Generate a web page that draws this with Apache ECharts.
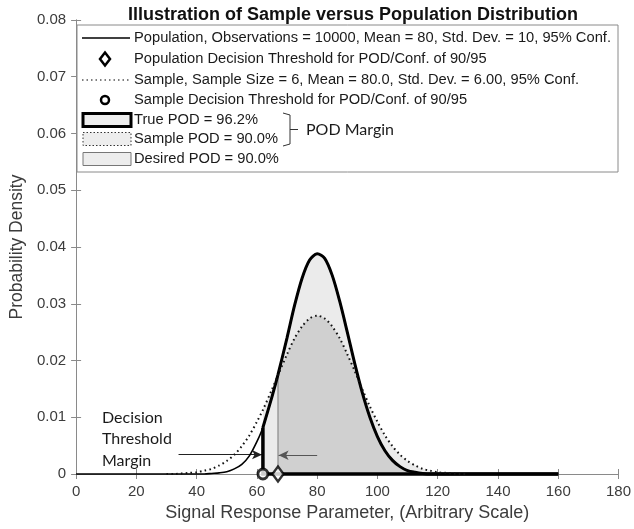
<!DOCTYPE html>
<html>
<head>
<meta charset="utf-8">
<script src="https://cdn.jsdelivr.net/npm/echarts@6/dist/echarts.min.js"></script>
<style>
html,body{margin:0;padding:0;background:#fff}
#main{width:634px;height:529px}
</style>
</head>
<body>
<div id="main"></div>
<script>
// values
var xs = [0,10,20,30,32.5,35,37.5,40,42.5,45,47.5,50,52.5,55,57.5,60,62,65,67,
    70,72.5,75,77.5,80,82.5,85,87.5,90,92.5,95,97.5,100,102.5,105,107.5,110,112.5,115,117.5,
    120,122.5,125,127.5,130,140,150,160];
var popDensity = [0,0,0,0,0,0,0,0,0,0.0001,0.0002,0.0004,0.0009,0.0017,0.0032,0.0057,0.0082,0.0136,0.0175,
    0.0240,0.0297,0.0345,0.0377,0.0388,0.0380,0.0350,0.0304,0.0250,0.0194,0.0143,0.0100,0.0066,0.0041,0.0024,0.0013,0.0006,0.0003,0.0001,0,
    0,0,0,0,0,0,0,0];
var sampleDensity = [null,null,null,0,0,0.0001,0.0002,0.0003,0.0006,0.0009,0.0015,0.0023,0.0034,0.0049,0.0068,0.0092,0.0113,0.0149,0.0174,
    0.0211,0.0239,0.0260,0.0274,0.0279,0.0274,0.0260,0.0239,0.0211,0.0181,0.0149,0.0119,0.0092,0.0068,0.0049,0.0034,0.0023,0.0015,0.0009,0.0006,
    0.0003,0.0002,0.0001,0,0,null,null,null];
var sampleThreshold = 62;   // circle
var popThreshold = 67;      // diamond
var leftArrow = [[34, 0.0034], [61.7, 0.0034]];
var rightArrow = [[80, 0.0033], [67.2, 0.0033]];

var legendRows = [
    'Population, Observations = 10000, Mean = 80, Std. Dev. = 10, 95% Conf.',
    'Population Decision Threshold for POD/Conf. of 90/95',
    'Sample, Sample Size = 6, Mean = 80.0, Std. Dev. = 6.00, 95% Conf.',
    'Sample Decision Threshold for POD/Conf. of 90/95',
    'True POD = 96.2%',
    'Sample POD = 90.0%',
    'Desired POD = 90.0%'
];

(function(){
    var myChart = echarts.init(document.getElementById('main'));

    function pairs(arr, from, to){
        var out = [];
        for (var i = 0; i < xs.length; i++) {
            if (xs[i] < from || xs[i] > to) continue;
            out.push([xs[i], arr[i]]);
        }
        return out;
    }
    function valueAt(arr, x){
        return arr[xs.indexOf(x)];
    }

    var popLine = pairs(popDensity, 0, 160);
    var sampleLine = pairs(sampleDensity, 30, 130);
    var truePod = pairs(popDensity, sampleThreshold, 160);
    var lightFill = [], darkFill = [];
    for (var i = 0; i < xs.length; i++) {
        var p = popDensity[i], s = sampleDensity[i] == null ? 0 : sampleDensity[i];
        if (xs[i] >= sampleThreshold) lightFill.push([xs[i], Math.max(p, s)]);
        if (xs[i] >= popThreshold) darkFill.push([xs[i], Math.min(p, s)]);
    }
    var pop62 = valueAt(popDensity, sampleThreshold);
    var pop67 = valueAt(popDensity, popThreshold);

    var axisGray = '#8a8a8a';
    var labelColor = '#3c3c3c';
    var smoothAmt = 0.3;
    var sans = '"Liberation Sans", Arial, sans-serif';

    // legend drawn by hand (MATLAB-like box)
    var rowY = [38, 59, 80, 100, 120, 139, 159];
    var txtX = 134;
    var g = [];
    g.push({type:'rect', shape:{x:77, y:25, width:541, height:147},
        style:{fill:'#fff', stroke:'#8a8a8a', lineWidth:1}, z:10});
    for (var r = 0; r < legendRows.length; r++) {
        g.push({type:'text', x:txtX, y:rowY[r], z:11,
            style:{text:legendRows[r], fill:'#1a1a1a', font:'14.7px ' + sans, verticalAlign:'middle'}});
    }
    g.push({type:'line', shape:{x1:82, y1:rowY[0], x2:130, y2:rowY[0]}, style:{stroke:'#000', lineWidth:1.5}, z:11});
    g.push({type:'polygon', shape:{points:[[105,rowY[1]-6.5],[110,rowY[1]],[105,rowY[1]+6.5],[100,rowY[1]]]},
        style:{fill:'#fff', stroke:'#000', lineWidth:2.5}, z:11});
    g.push({type:'line', shape:{x1:82, y1:rowY[2], x2:130, y2:rowY[2]}, style:{stroke:'#000', lineWidth:1.2, lineDash:[1.5,3]}, z:11});
    g.push({type:'circle', shape:{cx:105, cy:rowY[3], r:4}, style:{fill:'#fff', stroke:'#000', lineWidth:2.5}, z:11});
    g.push({type:'rect', shape:{x:83, y:rowY[4]-6.5, width:48, height:13}, style:{fill:'#ededed', stroke:'#000', lineWidth:3}, z:11});
    g.push({type:'rect', shape:{x:83, y:rowY[5]-6.5, width:48, height:13}, style:{fill:'#ededed', stroke:'#333', lineWidth:1, lineDash:[1.5,2]}, z:11});
    g.push({type:'rect', shape:{x:83, y:rowY[6]-6.5, width:48, height:13}, style:{fill:'#ededed', stroke:'#777', lineWidth:1}, z:11});
    // bracket
    g.push({type:'polyline', shape:{points:[[283,rowY[4]-7],[290,rowY[4]-5],[290,rowY[5]+5],[283,rowY[5]+7]]},
        style:{stroke:'#333', lineWidth:1, fill:null}, z:11});
    g.push({type:'line', shape:{x1:290, y1:(rowY[4]+rowY[5])/2, x2:298, y2:(rowY[4]+rowY[5])/2},
        style:{stroke:'#333', lineWidth:1}, z:11});
    g.push({type:'text', x:306, y:(rowY[4]+rowY[5])/2, z:11,
        style:{text:'POD Margin', fill:'#1a1a1a', font:'16px Lato, "Open Sans", sans-serif', verticalAlign:'middle'}});
    // annotation
    g.push({type:'text', x:102, y:407, z:11,
        style:{text:'Decision\nThreshold\nMargin', fill:'#1a1a1a', font:'16px Lato, "Open Sans", sans-serif', lineHeight:21.5}});

    var option = {
        animation:false,
        title:{
            text:'Illustration of Sample versus Population Distribution',
            left:348, textAlign:'center', top:1,
            textStyle:{fontSize:18, fontWeight:'bold', color:'#111', fontFamily:sans}
        },
        grid:{left:73, right:13, top:20, bottom:55},
        xAxis:[{
            type:'value', min:0, max:180, interval:20,
            name:'Signal Response Parameter, (Arbitrary Scale)',
            nameLocation:'middle', nameGap:22,
            nameTextStyle:{fontSize:18, color:labelColor, fontFamily:sans},
            axisLine:{show:true, lineStyle:{color:axisGray}},
            axisTick:{inside:true, length:5, lineStyle:{color:axisGray}},
            axisLabel:{fontSize:15, color:labelColor, margin:10, fontFamily:sans},
            splitLine:{show:false}
        },{
            type:'value', position:'top', min:0, max:180, interval:20,
            axisLine:{show:true, lineStyle:{color:axisGray}},
            axisTick:{inside:true, length:5, lineStyle:{color:axisGray}},
            axisLabel:{show:false}, splitLine:{show:false}
        }],
        yAxis:[{
            type:'value', min:0, max:0.08, interval:0.01,
            name:'Probability Density',
            nameLocation:'middle', nameGap:43,
            nameTextStyle:{fontSize:17.5, color:labelColor, fontFamily:sans},
            axisLine:{show:true, lineStyle:{color:axisGray}},
            axisTick:{show:true, inside:true, length:5, lineStyle:{color:axisGray}},
            axisLabel:{fontSize:15, color:labelColor, margin:10, fontFamily:sans,
                formatter:function(v){ return v === 0 ? '0' : v.toFixed(2); }},
            splitLine:{show:false}
        },{
            type:'value', position:'right', min:0, max:0.08, interval:0.01,
            axisLine:{show:true, lineStyle:{color:axisGray}},
            axisTick:{show:true, inside:true, length:5, lineStyle:{color:axisGray}},
            axisLabel:{show:false}, splitLine:{show:false}
        }],
        graphic:g,
        series:[
            {   // sample POD / true POD region
                type:'line', data:lightFill, smooth:smoothAmt, symbol:'none', clip:false,
                lineStyle:{width:0}, areaStyle:{color:'#ebebeb', opacity:1}, z:1, silent:true
            },
            {   // overlap with desired POD
                type:'line', data:darkFill, smooth:smoothAmt, symbol:'none', clip:false,
                lineStyle:{width:0}, areaStyle:{color:'#d0d0d0', opacity:1}, z:2, silent:true
            },
            {   // desired POD edge
                type:'line', data:[[popThreshold,0],[popThreshold,pop67]], symbol:'none', clip:false,
                lineStyle:{color:'#7a7a7a', width:1}, z:3, silent:true
            },
            {   // population
                type:'line', data:popLine, smooth:smoothAmt, symbol:'none', clip:false,
                lineStyle:{color:'#000', width:1.6}, z:5, silent:true
            },
            {   // true POD outline
                type:'line', data:truePod, smooth:smoothAmt, symbol:'none', clip:false,
                lineStyle:{color:'#000', width:3}, z:6, silent:true
            },
            {
                type:'line', data:[[160,0],[sampleThreshold,0],[sampleThreshold,pop62]], symbol:'none', clip:false,
                lineStyle:{color:'#000', width:3.5, join:'miter'}, z:6, silent:true
            },
            {   // sample
                type:'line', data:sampleLine, smooth:smoothAmt, symbol:'none', clip:false,
                lineStyle:{color:'#111', width:2, type:[1.6,3.2]}, z:7, silent:true
            },
            {   // arrows
                type:'line', data:[], silent:true,
                markLine:{
                    silent:true, symbol:['none','arrow'], symbolSize:[7,10], label:{show:false},
                    lineStyle:{type:'solid', width:1.2, color:'#222'},
                    data:[
                        [{coord:leftArrow[0]},{coord:leftArrow[1]}],
                        [{coord:rightArrow[0]},{coord:rightArrow[1], lineStyle:{color:'#555'}}]
                    ]
                }
            },
            {
                type:'scatter', data:[[sampleThreshold,0]], symbol:'circle', symbolSize:10, clip:false,
                itemStyle:{color:'#fff', borderColor:'#000', borderWidth:2.8}, z:9, silent:true
            },
            {
                type:'scatter', data:[[popThreshold,0]], symbol:'diamond', symbolSize:[11,15], clip:false,
                itemStyle:{color:'#fff', borderColor:'#000', borderWidth:2.5}, z:9, silent:true
            }
        ]
    };
    myChart.setOption(option);
})();
</script>
</body>
</html>
